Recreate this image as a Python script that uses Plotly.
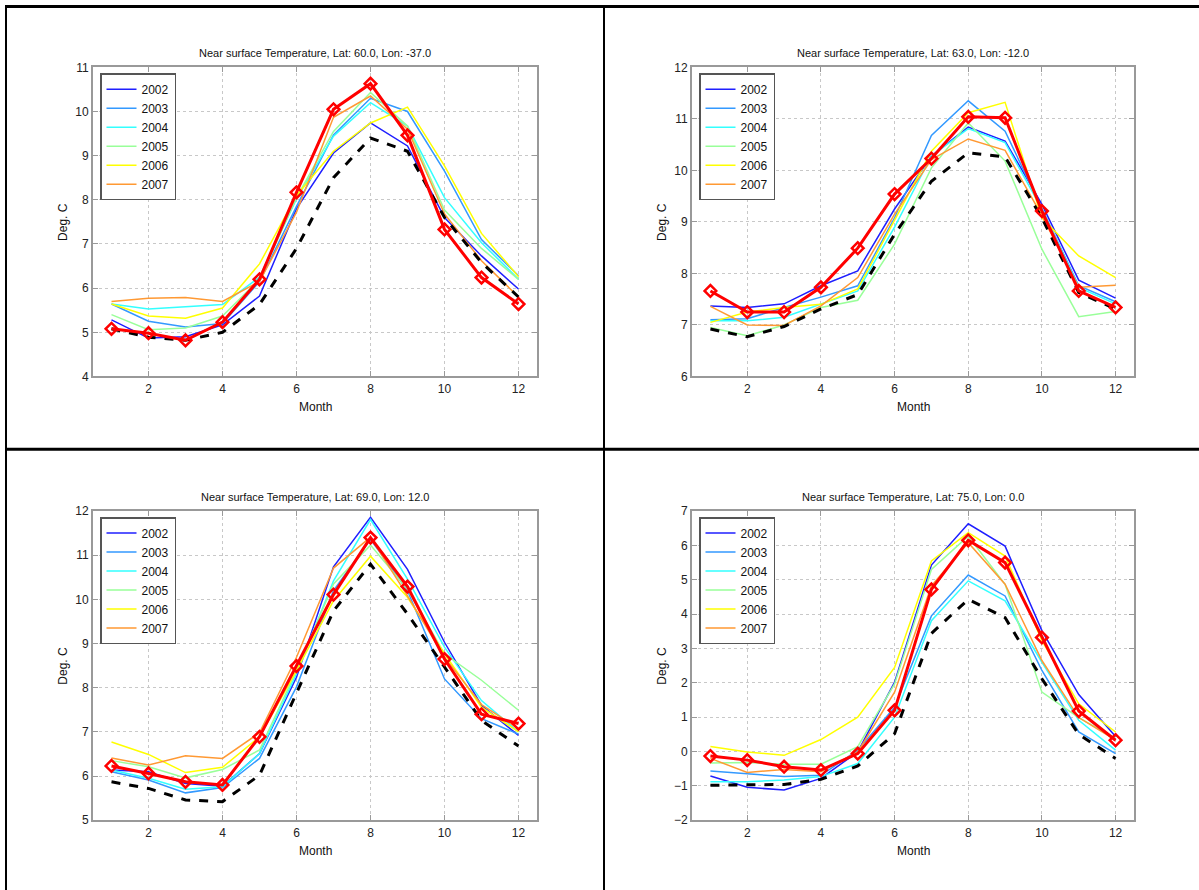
import plotly.graph_objects as go

W, H = 1199, 890

months = list(range(1, 13))
years = ["2002", "2003", "2004", "2005", "2006", "2007"]
year_colors = ["#1f1fff", "#3399ff", "#33ffff", "#99ff99", "#ffff00", "#ff9933"]

titles = [
    "Near surface Temperature, Lat: 60.0, Lon: -37.0",
    "Near surface Temperature, Lat: 63.0, Lon: -12.0",
    "Near surface Temperature, Lat: 69.0, Lon: 12.0",
    "Near surface Temperature, Lat: 75.0, Lon: 0.0",
]
y_ranges = [[4, 11], [6, 12], [5, 12], [-2, 7]]

# Panel 1: Lat 60, Lon -37
p1_years = [
    [5.28, 4.87, 4.90, 5.17, 5.82, 7.80, 9.06, 9.74, 9.22, 7.60, 6.73, 5.98],
    [5.64, 5.25, 5.12, 5.20, 6.15, 7.85, 9.47, 10.30, 10.00, 8.65, 7.10, 6.28],
    [5.64, 5.53, 5.58, 5.63, 6.25, 8.02, 9.44, 10.20, 9.67, 8.05, 7.03, 6.20],
    [5.40, 5.06, 5.10, 5.37, 6.20, 8.05, 9.55, 10.43, 9.67, 7.77, 6.90, 6.20],
    [5.64, 5.37, 5.32, 5.55, 6.55, 8.10, 9.10, 9.74, 10.10, 8.77, 7.24, 6.26],
    [5.70, 5.77, 5.79, 5.70, 6.15, 7.72, 9.87, 10.35, 9.60, 7.68, 6.62, 5.80],
]
p1_clim = [5.08, 4.89, 4.82, 5.00, 5.63, 6.90, 8.50, 9.40, 9.10, 7.60, 6.58, 5.80]
p1_red = [5.08, 4.98, 4.82, 5.23, 6.20, 8.17, 10.05, 10.63, 9.46, 7.33, 6.24, 5.64]

# Panel 2: Lat 63, Lon -12
p2_years = [
    [7.37, 7.34, 7.41, 7.76, 8.05, 9.25, 10.28, 10.84, 10.57, 9.34, 7.87, 7.52],
    [7.10, 7.12, 7.34, 7.54, 7.76, 9.08, 10.68, 11.35, 10.76, 9.25, 7.76, 7.45],
    [7.08, 7.08, 7.15, 7.40, 7.66, 8.90, 10.28, 10.81, 10.54, 9.25, 7.73, 7.41],
    [6.95, 6.79, 7.00, 7.34, 7.48, 8.57, 10.05, 10.92, 10.18, 8.47, 7.16, 7.26],
    [7.05, 7.25, 7.34, 7.40, 7.70, 9.02, 10.37, 11.12, 11.32, 9.08, 8.34, 7.92],
    [7.36, 7.00, 6.99, 7.37, 7.92, 9.15, 10.21, 10.61, 10.39, 9.12, 7.73, 7.77],
]
p2_clim = [6.92, 6.77, 6.97, 7.31, 7.59, 8.76, 9.79, 10.34, 10.26, 9.08, 7.63, 7.31]
p2_red = [7.66, 7.25, 7.25, 7.73, 8.49, 9.54, 10.23, 11.04, 11.02, 9.21, 7.66, 7.34]

# Panel 3: Lat 69, Lon 12
p3_years = [
    [6.14, 6.10, 5.83, 5.77, 6.51, 8.24, 10.74, 11.86, 10.68, 9.03, 7.60, 6.92],
    [6.10, 5.91, 5.62, 5.74, 6.40, 8.02, 10.20, 11.36, 10.20, 8.20, 7.30, 6.95],
    [6.14, 5.95, 5.70, 5.76, 6.51, 8.32, 10.42, 11.81, 10.46, 8.92, 7.71, 7.00],
    [6.35, 6.21, 5.96, 6.15, 6.59, 8.39, 10.35, 11.23, 10.23, 8.77, 8.17, 7.49],
    [6.77, 6.49, 6.08, 6.20, 6.89, 8.39, 9.97, 10.98, 10.05, 8.77, 7.56, 7.00],
    [6.41, 6.25, 6.46, 6.40, 6.98, 8.69, 10.71, 11.41, 10.08, 8.69, 7.62, 7.07],
]
p3_clim = [5.87, 5.72, 5.46, 5.42, 6.02, 7.86, 9.74, 10.80, 9.67, 8.47, 7.26, 6.68]
p3_red = [6.23, 6.06, 5.87, 5.80, 6.89, 8.49, 10.11, 11.40, 10.29, 8.65, 7.40, 7.19]

# Panel 4: Lat 75, Lon 0
p4_years = [
    [-0.71, -1.04, -1.12, -0.78, -0.01, 2.02, 5.43, 6.63, 5.98, 3.52, 1.66, 0.44],
    [-0.57, -0.64, -0.73, -0.69, 0.04, 1.29, 3.95, 5.14, 4.53, 2.36, 0.57, -0.06],
    [-0.88, -0.88, -0.83, -0.73, -0.35, 1.00, 3.81, 4.97, 4.39, 2.60, 0.91, 0.04],
    [-0.33, -0.32, -0.37, -0.37, 0.14, 1.97, 5.30, 6.27, 4.87, 1.73, 0.99, 0.38],
    [0.15, -0.01, -0.11, 0.35, 1.00, 2.45, 5.55, 6.37, 5.69, 3.23, 1.39, 0.57],
    [-0.20, -0.61, -0.52, -0.59, -0.01, 1.73, 4.82, 6.08, 4.87, 2.65, 0.99, 0.33],
]
p4_clim = [-0.98, -0.98, -0.96, -0.81, -0.42, 0.52, 3.44, 4.43, 3.90, 2.12, 0.50, -0.20]
p4_red = [-0.13, -0.25, -0.44, -0.54, -0.06, 1.20, 4.72, 6.15, 5.50, 3.32, 1.18, 0.33]

panels = [
    (p1_years, p1_clim, p1_red),
    (p2_years, p2_clim, p2_red),
    (p3_years, p3_clim, p3_red),
    (p4_years, p4_clim, p4_red),
]

# pixel boxes of plot areas in the target picture: (left, right, top, bottom)
boxes = [(93, 537, 66, 376), (692, 1134, 66, 376), (93, 537, 511, 821), (692, 1134, 511, 821)]

# observed vertical mapping of the screenshot (rendered = 0.987*y + 5.5)
VS, VO = 0.987, 5.5


def px(x):
    return x / W


def py(y):
    yf = (y - VO) / VS
    return 1 - yf / H


fig = go.Figure()
FONT = "Liberation Sans, Arial, Helvetica, sans-serif"
annotations = []
shapes = []

for i, ((yrs, clim, red), (l, r, t, b)) in enumerate(zip(panels, boxes)):
    n = i + 1
    xa = "x" if n == 1 else f"x{n}"
    ya = "y" if n == 1 else f"y{n}"
    lg = "legend" if n == 1 else f"legend{n}"
    for name, col, vals in zip(years, year_colors, yrs):
        fig.add_trace(go.Scatter(
            x=months, y=vals, mode="lines", name=name,
            line=dict(color=col, width=1.5),
            xaxis=xa, yaxis=ya, legend=lg, showlegend=True,
        ))
    fig.add_trace(go.Scatter(
        x=months, y=clim, mode="lines", name="clim",
        line=dict(color="black", width=3, dash="dash"),
        xaxis=xa, yaxis=ya, showlegend=False,
    ))
    fig.add_trace(go.Scatter(
        x=months, y=red, mode="lines+markers", name="2008",
        line=dict(color="#ff0000", width=3),
        marker=dict(symbol="diamond-open", size=9, color="#ff0000",
                    line=dict(color="#ff0000", width=2.5)),
        xaxis=xa, yaxis=ya, showlegend=False,
    ))

    axis_common = dict(
        showline=True, linecolor="#999999", linewidth=2, mirror="ticks",
        ticks="inside", ticklen=5, tickcolor="#999999",
        showgrid=True, gridcolor="#c8c8c8", griddash="dot", gridwidth=1,
        zeroline=False,
        tickfont=dict(family=FONT, size=12, color="#222222"),
    )
    xkey = "xaxis" if n == 1 else f"xaxis{n}"
    ykey = "yaxis" if n == 1 else f"yaxis{n}"
    fig.update_layout(**{
        xkey: dict(domain=[px(l), px(r)], range=[0.5, 12.5],
                   tickvals=[2, 4, 6, 8, 10, 12], anchor=ya, **axis_common),
        ykey: dict(domain=[py(b), py(t)], range=y_ranges[i], dtick=1,
                   anchor=xa, **axis_common),
        lg: dict(x=px(l + 7), y=py(t + 6), xanchor="left", yanchor="top",
                 bgcolor="white", bordercolor="#555555", borderwidth=1.5,
                 font=dict(family=FONT, size=12, color="#111111"),
                 itemwidth=30, tracegroupgap=0),
    })
    cx = (l + r) / 2
    annotations.append(dict(
        text=titles[i], x=px(cx), y=py(t - 14), xref="paper", yref="paper",
        showarrow=False, xanchor="center", yanchor="middle",
        font=dict(family=FONT, size=11, color="#111111"),
    ))
    annotations.append(dict(
        text="Month", x=px(cx), y=py(b + 31), xref="paper", yref="paper",
        showarrow=False, xanchor="center", yanchor="middle",
        font=dict(family=FONT, size=12, color="#111111"),
    ))
    annotations.append(dict(
        text="Deg. C", x=px(l - 30), y=py((t + b) / 2), xref="paper", yref="paper",
        showarrow=False, xanchor="center", yanchor="middle", textangle=-90,
        font=dict(family=FONT, size=12, color="#111111"),
    ))

# table cell borders
top_y = max(py(5), 1 - 1.2 / H)
shapes.append(dict(type="line", xref="paper", yref="paper",
                   x0=px(5), x1=1.02, y0=top_y, y1=top_y, line=dict(color="black", width=3)))
shapes.append(dict(type="line", xref="paper", yref="paper",
                   x0=px(6), x1=px(6), y0=top_y, y1=-0.03, line=dict(color="black", width=2)))
shapes.append(dict(type="line", xref="paper", yref="paper",
                   x0=px(604), x1=px(604), y0=top_y, y1=-0.03, line=dict(color="black", width=2)))
shapes.append(dict(type="line", xref="paper", yref="paper",
                   x0=px(5), x1=1.02, y0=py(449), y1=py(449), line=dict(color="black", width=3)))

fig.update_layout(
    width=W, height=H, autosize=False,
    margin=dict(l=0, r=0, t=0, b=0),
    paper_bgcolor="white", plot_bgcolor="white",
    annotations=annotations, shapes=shapes,
    font=dict(family=FONT, size=11),
)

fig.write_html(
    "out.html",
    config={"displayModeBar": False},
    post_script="document.body.style.margin='0';document.body.style.overflow='hidden';",
)
